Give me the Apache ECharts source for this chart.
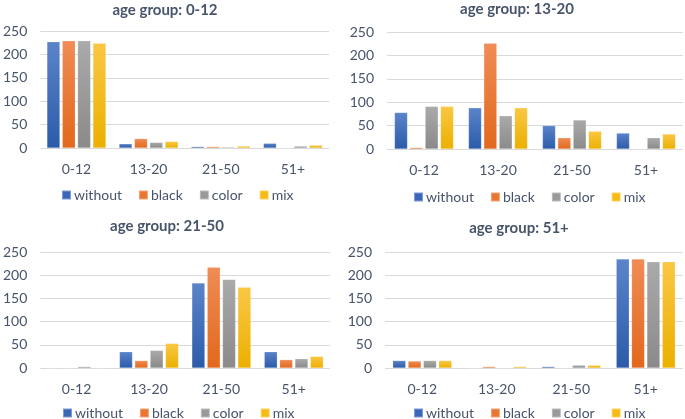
<!DOCTYPE html>
<html>
<head>
<meta charset="utf-8">
<script src="https://cdn.jsdelivr.net/npm/echarts@6/dist/echarts.min.js"></script>
<style>html,body{margin:0;padding:0;background:#fff}#c{width:685px;height:419px}</style>
</head>
<body>
<div id="c"></div>
<script>
const categories = ['0-12', '13-20', '21-50', '51+'];
const seriesNames = ['without', 'black', 'color', 'mix'];
const yTicks = [0, 50, 100, 150, 200, 250];
const panelTitles = ['age group: 0-12', 'age group: 13-20', 'age group: 21-50', 'age group: 51+'];

// age group 0-12
const g1Without = [227, 9, 3, 10];
const g1Black = [229, 20, 3, 0];
const g1Color = [229, 12, 2, 4];
const g1Mix = [224, 14, 4, 6];
// age group 13-20
const g2Without = [78, 88, 50, 34];
const g2Black = [3, 226, 24, 0];
const g2Color = [91, 71, 62, 24];
const g2Mix = [91, 88, 38, 32];
// age group 21-50
const g3Without = [0, 35, 183, 35];
const g3Black = [0, 16, 217, 18];
const g3Color = [3, 38, 191, 20];
const g3Mix = [0, 53, 174, 25];
// age group 51+
const g4Without = [16, 0, 3, 235];
const g4Black = [15, 3, 0, 235];
const g4Color = [16, 0, 6, 229];
const g4Mix = [16, 3, 6, 229];

const groups = [
  [g1Without, g1Black, g1Color, g1Mix],
  [g2Without, g2Black, g2Color, g2Mix],
  [g3Without, g3Black, g3Color, g3Mix],
  [g4Without, g4Black, g4Color, g4Mix]
];

const FONT = 'Lato';
const TXT = '#47546a';
const solid = ['#3a67b8', '#ea7631', '#999999', '#f7bb16'];
const grads = [
  ['#5b84ca', '#2b5ba9'],
  ['#ef8c55', '#e2681d'],
  ['#aaaaaa', '#8a8a8a'],
  ['#fac744', '#ebb000']
];
function grad(i) {
  return new echarts.graphic.LinearGradient(0, 0, 0, 1, [
    { offset: 0, color: grads[i][0] },
    { offset: 1, color: grads[i][1] }
  ]);
}

const grids = [
  { left: 37, width: 292, top: 31, height: 117 },
  { left: 387, width: 296, top: 32, height: 117 },
  { left: 37, width: 293, top: 252, height: 116 },
  { left: 385, width: 298, top: 252, height: 116 }
];
const titlePos = [[165, 3], [517, 2], [167, 219], [519, 221]];
const legendPos = [[61, 188], [413, 190], [62, 406], [413, 406]];

const option = {
  animation: false,
  backgroundColor: '#ffffff',
  textStyle: { fontFamily: FONT },
  title: panelTitles.map((t, i) => ({
    text: t,
    left: titlePos[i][0],
    top: titlePos[i][1],
    textAlign: 'center',
    padding: 0,
    textStyle: { fontFamily: FONT, fontSize: 15, fontWeight: 'bold', color: TXT }
  })),
  legend: legendPos.map((p) => ({
    left: p[0],
    top: p[1],
    padding: 0,
    itemWidth: 9,
    itemHeight: 9,
    itemGap: 16,
    icon: 'rect',
    data: seriesNames.map((n, k) => ({ name: n, itemStyle: { color: solid[k] } })),
    textStyle: { fontFamily: FONT, fontSize: 14, color: TXT, padding: [0, 0, 0, -2] }
  })),
  grid: grids.map(g => Object.assign({ containLabel: false }, g)),
  xAxis: grids.map((g, i) => ({
    type: 'category',
    gridIndex: i,
    data: categories,
    axisLine: { show: false },
    axisTick: { show: false },
    axisLabel: { fontFamily: FONT, fontSize: 14, color: TXT, margin: 14 }
  })),
  yAxis: grids.map((g, i) => ({
    type: 'value',
    gridIndex: i,
    min: 0,
    max: 250,
    interval: 50,
    axisLine: { show: false },
    axisTick: { show: false },
    splitLine: { lineStyle: { color: '#d9d9d9', width: 1 } },
    axisLabel: { fontFamily: FONT, fontSize: 14, color: TXT, margin: 13 }
  })),
  series: []
};

groups.forEach((grp, gi) => {
  grp.forEach((vals, si) => {
    option.series.push({
      type: 'bar',
      name: seriesNames[si],
      xAxisIndex: gi,
      yAxisIndex: gi,
      data: vals,
      barWidth: 13,
      barGap: '18%',
      itemStyle: { color: grad(si), borderColor: 'rgba(255,255,255,0.35)', borderWidth: 0.5 }
    });
  });
});

const chart = echarts.init(document.getElementById('c'), null, { renderer: 'canvas' });
chart.setOption(option);
</script>
</body>
</html>
